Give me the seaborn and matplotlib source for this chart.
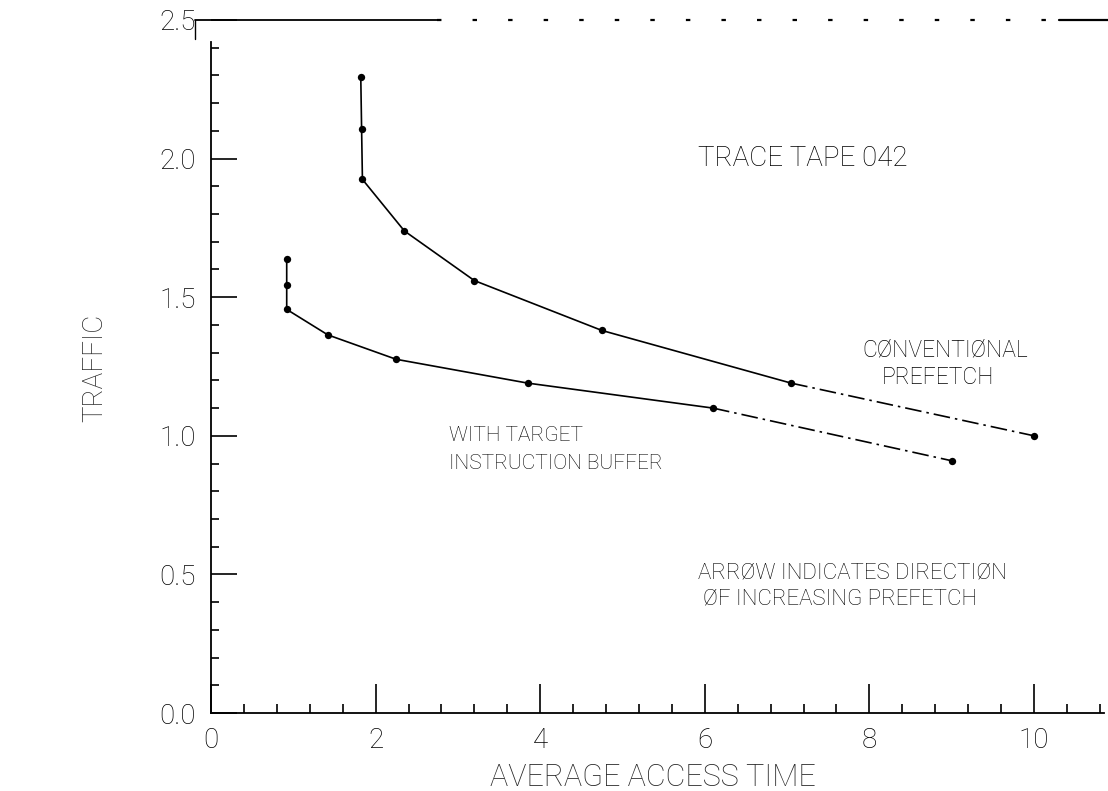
import matplotlib
matplotlib.use("Agg")
import matplotlib.pyplot as plt
from matplotlib.ticker import MultipleLocator, FixedLocator, FormatStrFormatter
import seaborn as sns
import pandas as pd

# Conventional prefetch: average access time vs. traffic
conv_time = [1.82, 1.83, 1.84, 2.35, 3.20, 4.75, 7.05, 10.0]
conv_traffic = [2.295, 2.107, 1.925, 1.739, 1.56, 1.38, 1.19, 1.00]

# Prefetch with a target instruction buffer
tib_time = [0.92, 0.92, 0.92, 1.42, 2.25, 3.85, 6.10, 9.00]
tib_traffic = [1.637, 1.544, 1.456, 1.364, 1.276, 1.19, 1.10, 0.91]

x_ticks = [0, 2, 4, 6, 8, 10]
y_ticks = [0.0, 0.5, 1.0, 1.5, 2.0, 2.5]

sns.set_style("white")
plt.rcParams["font.family"] = ["Roboto", "DejaVu Sans"]
plt.rcParams["font.weight"] = "light"

fig = plt.figure(figsize=(11.08, 7.91), dpi=100)
ax = fig.add_axes([211 / 1108, 78 / 791, 897 / 1108, 693 / 791])

conv = pd.DataFrame({"time": conv_time, "traffic": conv_traffic})
tib = pd.DataFrame({"time": tib_time, "traffic": tib_traffic})

line_kw = dict(x="time", y="traffic", sort=False, estimator=None,
               color="black", linewidth=1.2, ax=ax)
broken = (0, (10, 3, 1.5, 3))

# solid part of each curve, then the broken tail
sns.lineplot(data=conv.iloc[:7], **line_kw)
sns.lineplot(data=conv.iloc[6:], linestyle=broken, **line_kw)
sns.lineplot(data=tib.iloc[:7], **line_kw)
sns.lineplot(data=tib.iloc[6:], linestyle=broken, **line_kw)

sns.scatterplot(data=conv, x="time", y="traffic", color="black", s=28,
                linewidth=0, ax=ax, zorder=3)
sns.scatterplot(data=tib, x="time", y="traffic", color="black", s=28,
                linewidth=0, ax=ax, zorder=3)

ax.set_xlim(0, 10.9)
ax.set_ylim(0, 2.5)

# frame: left and bottom axis lines, broken rule across the top
for side in ("top", "right"):
    ax.spines[side].set_visible(False)
ax.spines["left"].set_bounds(0, 2.42)
ax.spines["bottom"].set_bounds(0, 10.85)
for side in ("left", "bottom"):
    ax.spines[side].set_linewidth(1.3)
    ax.spines[side].set_color("black")

ax.plot([-0.19, 2.75], [2.5, 2.5], color="black", lw=1.3, clip_on=False)
ax.plot([2.75, 10.3], [2.5, 2.5], color="black", lw=1.6,
        linestyle=(0, (2, 14)), clip_on=False)
ax.plot([10.3, 10.9], [2.5, 2.5], color="black", lw=1.6, clip_on=False)
ax.plot([-0.19, -0.19], [2.5, 2.43], color="black", lw=1.0, clip_on=False)

# ticks point into the plot area
ax.xaxis.set_major_locator(FixedLocator(x_ticks))
ax.xaxis.set_minor_locator(MultipleLocator(0.4))
ax.yaxis.set_major_locator(FixedLocator(y_ticks))
ax.yaxis.set_minor_locator(MultipleLocator(0.1))
ax.yaxis.set_major_formatter(FormatStrFormatter("%.1f"))
ax.set_xticklabels([str(v) for v in x_ticks])

ax.tick_params(axis="both", which="both", direction="in", color="black",
               width=1.2, labelsize=20, labelcolor="black")
ax.tick_params(axis="y", which="major", length=19, pad=11, left=True)
ax.tick_params(axis="y", which="minor", length=5.5, left=True)
ax.tick_params(axis="x", which="major", length=21, pad=10, bottom=True)
ax.tick_params(axis="x", which="minor", length=6.5, bottom=True)
for lab in ax.get_xticklabels() + ax.get_yticklabels():
    lab.set_fontweight("light")

ax.set_xlabel("AVERAGE ACCESS TIME", fontsize=22, fontweight="light")
ax.set_ylabel("TRAFFIC", fontsize=20, fontweight="light")
ax.xaxis.set_label_coords(0.493, -0.093)
ax.yaxis.set_label_coords(-0.129, 0.498)
ax.xaxis.label.set_va("center")
ax.yaxis.label.set_va("center")

txt = dict(ha="left", va="center", color="black", fontweight="light")
ax.text(5.92, 2.0, "TRACE TAPE 042", fontsize=20, **txt)
ax.text(7.91, 1.31, "CØNVENTIØNAL", fontsize=16.5, **txt)
ax.text(8.15, 1.21, "PREFETCH", fontsize=16.5, **txt)
ax.text(2.89, 1.00, "WITH TARGET", fontsize=15, **txt)
ax.text(2.89, 0.90, "INSTRUCTION BUFFER", fontsize=15, **txt)
ax.text(5.92, 0.505, "ARRØW INDICATES DIRECTIØN", fontsize=16, **txt)
ax.text(5.98, 0.41, "ØF INCREASING PREFETCH", fontsize=16, **txt)

fig.savefig("out.png", dpi=100, facecolor="white")
